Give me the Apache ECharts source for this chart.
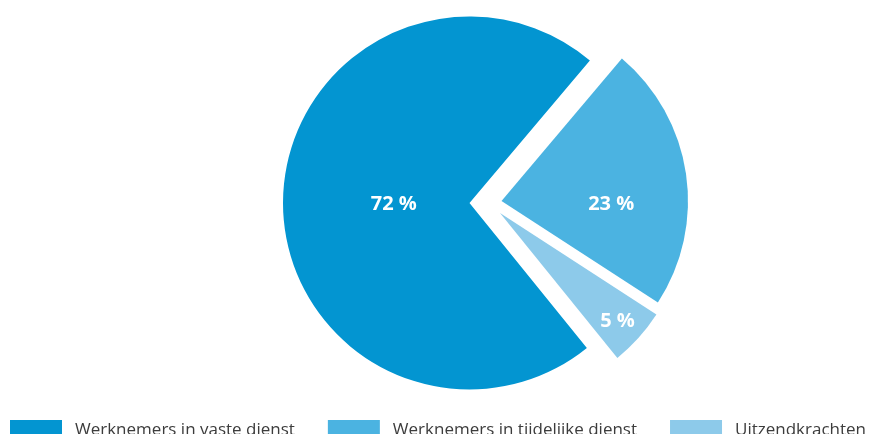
<!DOCTYPE html>
<html>
<head>
<meta charset="utf-8">
<script src="https://cdn.jsdelivr.net/npm/echarts@6/dist/echarts.min.js"></script>
<style>
  html, body { margin: 0; padding: 0; background: #fff; }
  #chart { width: 872px; height: 434px; }
</style>
</head>
<body>
<div id="chart"></div>
<script>
// data
const categories = ['Werknemers in vaste dienst', 'Werknemers in tijdelijke dienst', 'Uitzendkrachten'];
const values = [72, 23, 5];
const colors = ['#0395d1', '#4bb3e1', '#8dcaea'];

const chart = echarts.init(document.getElementById('chart'));

// each slice gets its own series so it can be pulled out on its own
const sliceSeries = (k, center, shift) => ({
  type: 'pie',
  center: center,
  radius: 186.5,
  startAngle: -51,
  clockwise: true,
  silent: true,
  animation: false,
  avoidLabelOverlap: false,
  label: {
    show: true,
    position: 'inside',
    formatter: '{c} %',
    color: '#fff',
    fontSize: 20,
    fontWeight: 'bold',
    fontFamily: 'Open Sans'
  },
  labelLine: { show: false },
  labelLayout: function (p) {
    return p.dataIndex === k ? { dx: shift[0], dy: shift[1] } : {};
  },
  emphasis: { disabled: true },
  data: values.map((v, i) => ({
    name: categories[i],
    value: v,
    itemStyle: { color: i === k ? colors[i] : 'rgba(0,0,0,0)', borderWidth: 0 },
    label: { show: i === k }
  }))
});

const option = {
  animation: false,
  legend: {
    left: 10,
    top: 420,
    padding: 0,
    itemWidth: 52,
    itemHeight: 20,
    itemGap: 33,
    icon: 'rect',
    selectedMode: false,
    textStyle: {
      fontSize: 17,
      color: '#3c3c3c',
      fontFamily: 'Open Sans',
      padding: [0, 0, 0, 8]
    },
    data: categories.map((c, i) => ({ name: c, itemStyle: { color: colors[i] } }))
  },
  series: [
    sliceSeries(0, [469.5, 203], [20.5, 2]),
    sliceSeries(1, [501.5, 201], [14.5, 17.4]),
    sliceSeries(2, [500, 213], [46, 44])
  ]
};

chart.setOption(option);
</script>
</body>
</html>
